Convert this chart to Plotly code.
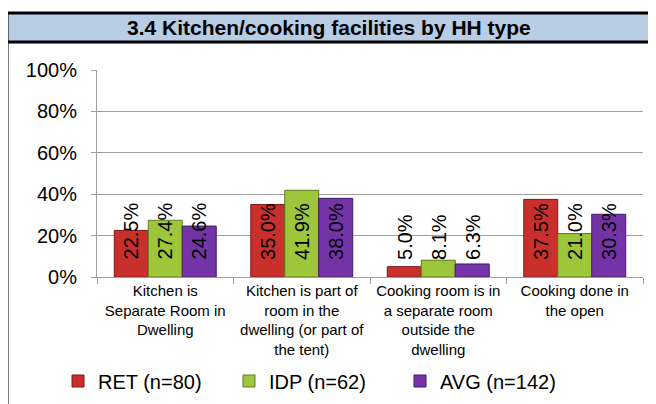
import plotly.graph_objects as go

categories = [
    "Kitchen is<br>Separate Room in<br>Dwelling",
    "Kitchen is part of<br>room in the<br>dwelling (or part of<br>the tent)",
    "Cooking room is in<br>a separate room<br>outside the<br>dwelling",
    "Cooking done in<br>the open",
]
series_names = ["RET (n=80)", "IDP (n=62)", "AVG (n=142)"]
ret_values = [22.5, 35.0, 5.0, 37.5]
idp_values = [27.4, 41.9, 8.1, 21.0]
avg_values = [24.6, 38.0, 6.3, 30.3]
y_ticks = [0, 20, 40, 60, 80, 100]
y_tick_labels = ["0%", "20%", "40%", "60%", "80%", "100%"]
title_text = "3.4 Kitchen/cooking facilities by HH type"

colors = ["#C9302C", "#9DC63A", "#7434A8"]
line_colors = ["#7A1A18", "#5E7A1E", "#421C66"]
all_values = [ret_values, idp_values, avg_values]

# page has an 8px body margin; work in reference-pixel coordinates
OFF = 8
W, H = 656 - OFF, 404 - OFF
PL, PR, PT, PB = 97, 643, 70, 277  # plot area in reference pixels
L, R, T, B = PL - OFF, 656 - PR, PT - OFF, 404 - PB
pw, ph = PR - PL, PB - PT

def px_x(p):
    return (p - PL) / pw

def px_y(p):
    return (PB - p) / ph

fig = go.Figure()
for name, vals, c, lc in zip(series_names, all_values, colors, line_colors):
    fig.add_trace(go.Bar(
        x=categories, y=vals, name=name,
        marker=dict(color=c, line=dict(color=lc, width=1)),
    ))

annotations = []
bar_w = 34
for i, vals in enumerate(all_values):
    for j, v in enumerate(vals):
        annotations.append(dict(
            x=categories[j], y=7.4, xref="x", yref="y",
            text=f"{v:.1f}%", showarrow=False, textangle=-90,
            xanchor="center", yanchor="bottom", xshift=(i - 1) * bar_w,
            font=dict(family="Arial, Liberation Sans", size=20, color="black"),
        ))

annotations.append(dict(
    x=px_x(329), y=px_y(27.5), xref="paper", yref="paper",
    text=f"<b>{title_text}</b>", showarrow=False,
    xanchor="center", yanchor="middle",
    font=dict(family="Arial, Liberation Sans", size=21, color="black"),
))

shapes = [
    dict(type="rect", xref="paper", yref="paper",
         x0=px_x(7), x1=px_x(651), y0=px_y(42), y1=px_y(13),
         fillcolor="#B8CCE4", line=dict(width=0), layer="below"),
    dict(type="rect", xref="paper", yref="paper",
         x0=px_x(7), x1=px_x(651), y0=px_y(420), y1=px_y(13),
         fillcolor="rgba(0,0,0,0)", line=dict(color="black", width=3)),
    dict(type="line", xref="paper", yref="paper",
         x0=px_x(7), x1=px_x(651), y0=px_y(42), y1=px_y(42),
         line=dict(color="black", width=3)),
]

fig.update_layout(
    width=W, height=H,
    margin=dict(l=L, r=R, t=T, b=B, autoexpand=False),
    paper_bgcolor="white", plot_bgcolor="white",
    barmode="group", bargap=0.253, bargroupgap=0,
    font=dict(family="Arial, Liberation Sans", color="black"),
    annotations=annotations, shapes=shapes,
    showlegend=True,
    legend=dict(
        orientation="h", xref="container", yref="container",
        x=(58 - OFF) / W, y=1 - (381 - OFF) / H, xanchor="left", yanchor="middle",
        font=dict(size=20), entrywidth=126, entrywidthmode="pixels",
        itemwidth=30, bgcolor="rgba(0,0,0,0)",
    ),
)
fig.update_yaxes(
    range=[0, 100], tickvals=y_ticks, ticktext=y_tick_labels,
    showgrid=True, gridcolor="#A0A0A0", gridwidth=1,
    showline=True, linecolor="#A0A0A0", linewidth=1,
    ticks="outside", ticklen=5, tickcolor="#A0A0A0",
    tickfont=dict(size=20), ticklabelstandoff=10, zeroline=False,
)
fig.update_xaxes(
    showline=True, linecolor="#A0A0A0", linewidth=1,
    ticks="outside", tickson="boundaries", ticklen=6, tickcolor="#A0A0A0",
    tickfont=dict(size=15), tickangle=0,
)
fig.write_html("out.html")
